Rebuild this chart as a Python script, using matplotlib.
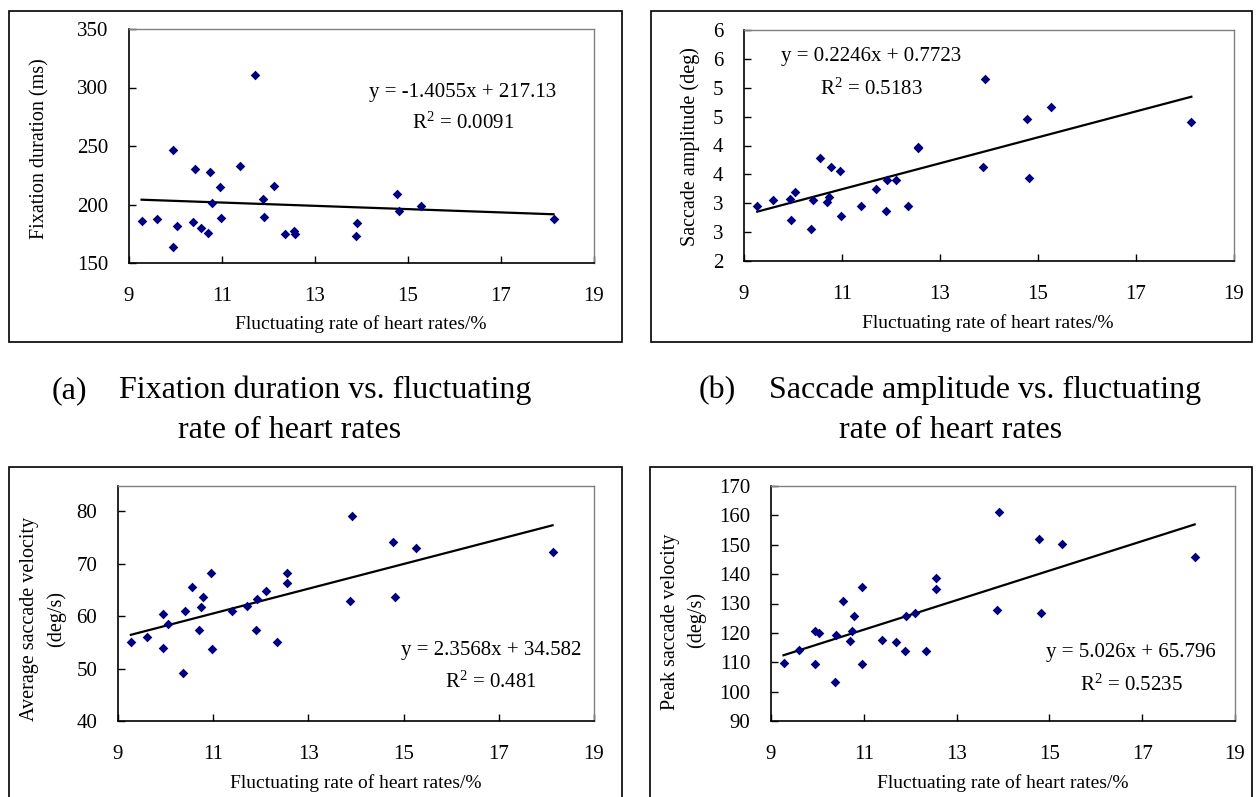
import matplotlib
matplotlib.use('Agg')
import matplotlib.pyplot as plt
from matplotlib.patches import Rectangle
import numpy as np

plt.rcParams['font.family'] = ['Liberation Serif', 'DejaVu Serif']
plt.rcParams['mathtext.fontset'] = 'custom'
plt.rcParams['mathtext.rm'] = 'Liberation Serif'
plt.rcParams['mathtext.it'] = 'Liberation Serif:italic'

# ---------------- data ----------------
x_rate = [9.27, 9.60, 9.94, 9.95, 10.04, 10.37, 10.41, 10.55, 10.70, 10.74, 10.78,
          10.96, 10.97, 11.39, 11.70, 11.89, 11.91, 12.11, 12.35, 12.55, 12.56,
          13.88, 13.91, 14.77, 14.81, 15.27, 18.13]
fix_dur = [186.0, 187.4, 246.6, 163.4, 181.4, 185.1, 230.6, 180.3, 176.0, 227.7, 201.1,
           214.9, 188.6, 233.1, 310.9, 204.6, 189.7, 216.0, 174.9, 177.1, 174.9,
           173.4, 184.0, 208.9, 194.3, 198.9, 187.4]
sac_amp = [2.95, 3.05, 3.08, 2.71, 3.20, 2.55, 3.06, 3.78, 3.03, 3.10, 3.62,
           3.56, 2.78, 2.95, 3.25, 2.86, 3.40, 3.40, 2.96, 3.98, 3.95,
           3.62, 5.16, 4.46, 3.43, 4.66, 4.40]
avg_vel = [55.0, 56.0, 60.4, 54.0, 58.4, 49.1, 60.9, 65.5, 57.3, 61.7, 63.7,
           68.3, 53.7, 60.9, 62.0, 57.3, 63.2, 64.7, 55.0, 66.3, 68.3,
           62.9, 79.1, 74.1, 63.7, 72.9, 72.2]
peak_vel = [109.9, 114.1, 120.6, 109.3, 120.0, 103.4, 119.2, 131.0, 117.3, 120.7, 125.6,
            135.6, 109.3, 117.7, 116.8, 114.0, 125.7, 126.9, 114.0, 135.1, 138.8,
            127.7, 161.3, 152.0, 126.8, 150.2, 146.0]

slopes = [-1.4055, 0.2246, 2.3568, 5.026]
intercepts = [217.13, 0.7723, 34.582, 65.796]
eq_texts = ["y = -1.4055x + 217.13", "y = 0.2246x + 0.7723",
            "y = 2.3568x + 34.582", "y = 5.026x + 65.796"]
r2_texts = ["0.0091", "0.5183", "0.481", "0.5235"]

x_ticks = [9, 11, 13, 15, 17, 19]
y_ticks_a = [150, 200, 250, 300, 350]
y_ticks_b = [2.0, 2.5, 3.0, 3.5, 4.0, 4.5, 5.0, 5.5, 6.0]
y_ticklabels_b = ["2", "3", "3", "4", "4", "5", "5", "6", "6"]
y_ticks_c = [40, 50, 60, 70, 80]
y_ticks_d = [90, 100, 110, 120, 130, 140, 150, 160, 170]

xlabel = "Fluctuating rate of heart rates/%"
ylabels = [["Fixation duration (ms)"], ["Saccade amplitude (deg)"],
           ["Average saccade velocity", "(deg/s)"], ["Peak saccade velocity", "(deg/s)"]]

# ---------------- layout ----------------
W, H = 1259, 797
fig = plt.figure(figsize=(W / 100, H / 100), dpi=100)


def fx(px):
    return px / W


def fy(py):
    return 1 - py / H


def add_axes(l, t, r, b):
    return fig.add_axes([fx(l), fy(b), (r - l) / W, (b - t) / H])


# outer panel frames
for (l, t, r, b) in [(9, 11, 622, 342), (651, 11, 1252, 342),
                     (9, 467, 622, 805), (650, 467, 1252, 805)]:
    fig.patches.append(Rectangle((fx(l), fy(b)), (r - l) / W, (b - t) / H,
                                 transform=fig.transFigure, fill=False,
                                 edgecolor='black', linewidth=1.2))

panels = [
    dict(box=(129, 29, 594, 263), y=fix_dur, ylim=(150, 350), yt=y_ticks_a, ytl=None,
         eq=(463, 92, 123), yl=[(40, 149)], xl=(361, 324)),
    dict(box=(744, 30, 1234, 261), y=sac_amp, ylim=(2, 6), yt=y_ticks_b, ytl=y_ticklabels_b,
         eq=(871, 57, 89), yl=[(690, 147)], xl=(988, 323)),
    dict(box=(118, 486, 594, 721), y=avg_vel, ylim=(40, 84.8), yt=y_ticks_c, ytl=None,
         eq=(491, 650, 682), yl=[(30, 619), (56, 619)], xl=(356, 783)),
    dict(box=(771, 486, 1235, 721), y=peak_vel, ylim=(90, 170), yt=y_ticks_d, ytl=None,
         eq=(1131, 652, 685), yl=[(670, 622), (696, 620)], xl=(1003, 783)),
]

xs = np.array(x_rate)
for i, p in enumerate(panels):
    ax = add_axes(*p['box'])
    ax.scatter(x_rate, p['y'], marker='D', s=24, color='#000080', zorder=3, linewidths=0)
    xl_ = np.array([xs.min(), xs.max()])
    ax.plot(xl_, slopes[i] * xl_ + intercepts[i], color='black', lw=1.6, zorder=2)
    ax.set_xlim(9, 19)
    ax.set_ylim(*p['ylim'])
    ax.set_xticks(x_ticks)
    ax.set_xticklabels([str(t) for t in x_ticks])
    ax.set_yticks(p['yt'])
    if p['ytl'] is not None:
        ax.set_yticklabels(p['ytl'])
    else:
        ax.set_yticklabels([str(t) for t in p['yt']])
    ax.tick_params(axis='both', direction='in', length=5, width=1, labelsize=15, color='black')
    ax.tick_params(axis='x', pad=17)
    ax.tick_params(axis='y', pad=15)
    for s in ['left', 'bottom']:
        ax.spines[s].set_color('black')
        ax.spines[s].set_linewidth(1.2)
    for s in ['top', 'right']:
        ax.spines[s].set_color('#808080')
        ax.spines[s].set_linewidth(1.0)
    ex, ey1, ey2 = p['eq']
    fig.text(fx(ex), fy(ey1), eq_texts[i], ha='center', va='center', fontsize=15)
    fig.text(fx(ex), fy(ey2), r"R$^{2}$ = " + r2_texts[i], ha='center', va='center', fontsize=15)
    for (lx, ly), txt in zip(p['yl'], ylabels[i]):
        fig.text(fx(lx), fy(ly), txt, rotation=90, ha='center', va='center', fontsize=14.5)
    fig.text(fx(p['xl'][0]), fy(p['xl'][1]), xlabel, ha='center', va='center', fontsize=14)

# captions
cap_size = 23
fig.text(fx(52), fy(398), "(a)", ha='left', va='baseline', fontsize=cap_size)
fig.text(fx(119), fy(398), "Fixation duration vs. fluctuating", ha='left', va='baseline', fontsize=cap_size)
fig.text(fx(178), fy(438), "rate of heart rates", ha='left', va='baseline', fontsize=cap_size)
fig.text(fx(699), fy(398), "(b)", ha='left', va='baseline', fontsize=cap_size)
fig.text(fx(769), fy(398), "Saccade amplitude vs. fluctuating", ha='left', va='baseline', fontsize=cap_size)
fig.text(fx(839), fy(438), "rate of heart rates", ha='left', va='baseline', fontsize=cap_size)

fig.savefig('out.png', dpi=100)
